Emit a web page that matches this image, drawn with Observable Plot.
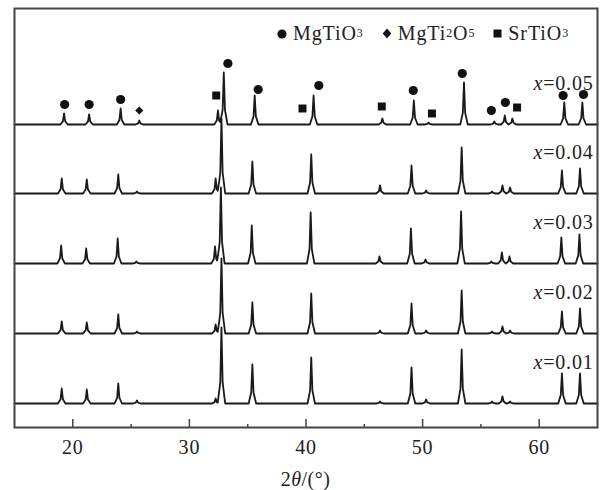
<!DOCTYPE html>
<html>
<head>
<meta charset="utf-8">
<script src="https://cdn.jsdelivr.net/npm/d3@7"></script>
<script src="https://cdn.jsdelivr.net/npm/@observablehq/plot@0.6"></script>
<style>
  html, body { margin: 0; padding: 0; background: #fff; }
  #wrap { position: relative; width: 600px; height: 490px; font-family: "Liberation Serif", serif; color: #222; }
  #legend { position: absolute; top: 22px; left: 277px; font-size: 20px; letter-spacing: 0.9px; white-space: nowrap; display: flex; align-items: center; }
  #legend .item { display: inline-flex; align-items: center; margin-right: 18px; }
  #legend svg { margin-right: 6px; }
  #legend sub { font-size: 12px; vertical-align: -6px; }
  #xlabel { position: absolute; top: 468px; left: 0; width: 611px; text-align: center; font-size: 20px; letter-spacing: 0.5px; }
  svg text { letter-spacing: 0.8px; }
</style>
</head>
<body>
<div id="wrap">
  <div id="chart"></div>
  <div id="legend">
    <span class="item"><svg width="10" height="10"><circle cx="5" cy="5" r="4.6" fill="#111"/></svg>MgTiO<sub>3</sub></span>
    <span class="item"><svg width="10" height="11"><path d="M5,0.5L9.3,5.5L5,10.5L0.7,5.5Z" fill="#111"/></svg>MgTi<sub>2</sub>O<sub>5</sub></span>
    <span class="item"><svg width="9" height="9"><rect x="0.5" y="0.5" width="8" height="8" fill="#111"/></svg>SrTiO<sub>3</sub></span>
  </div>
  <div id="xlabel">2<i>θ</i>/(°)</div>
</div>
<script>
// ---- data ----
const samples = ["0.05", "0.04", "0.03", "0.02", "0.01"];
// vertical offsets of each pattern (a.u.)
const offsets = [303, 234, 164, 94, 24];
// small 2θ shift of each pattern (°)
const shifts = [0.2, 0.0, -0.05, 0.0, 0.0];
// peak positions (2θ, °)
const peakPos = [19.05, 21.2, 23.9, 25.5, 32.25, 32.75, 35.4, 40.45, 46.35, 49.05, 50.3, 53.35, 55.95, 56.85, 57.5, 61.95, 63.5];
// peak intensities for each sample (a.u.)
const h005 = [11, 10, 16, 4, 14, 52, 29, 29, 6, 24, 2, 42, 3, 9, 6, 22, 22];
const h004 = [15, 14, 19, 2, 15, 75, 32, 39, 8, 28, 3, 46, 2, 8, 6, 23, 25];
const h003 = [18, 15, 25, 2, 17, 76, 38, 51, 7, 35, 4, 52, 2, 11, 7, 26, 29];
const h002 = [12, 11, 19, 2, 9, 75, 31, 40, 3, 30, 3, 43, 2, 7, 3, 22, 25];
const h001 = [15, 14, 20, 3, 5, 76, 39, 46, 2, 36, 4, 54, 2, 7, 2, 30, 30];
const heights = [h005, h004, h003, h002, h001];
// relative peak profile: [Δ2θ, fraction of peak height]
const peakProfile = [[-0.32, 0], [-0.1, 0.28], [0, 1], [0.1, 0.28], [0.32, 0]];
// phase markers above the x=0.05 pattern
const markerPhase = ["MgTiO3","MgTiO3","MgTiO3","MgTi2O5","SrTiO3","MgTiO3","MgTiO3","SrTiO3","MgTiO3","SrTiO3","MgTiO3","SrTiO3","MgTiO3","MgTiO3","MgTiO3","SrTiO3","MgTiO3","MgTiO3"];
const markerPos   = [19.3, 21.4, 24.1, 25.7, 32.3, 33.3, 35.9, 39.7, 41.1, 46.5, 49.2, 50.8, 53.4, 55.9, 57.1, 58.1, 62.05, 63.8];
const markerInt   = [323, 323, 328, 317, 332, 364, 338, 319, 342, 321, 337, 314, 354, 317, 325, 320, 332, 333];
const xTicks = [20, 30, 40, 50, 60];
const xMinor = [25, 35, 45, 55];

// ---- build tables ----
function profileAt(d) {
  for (let k = 0; k < peakProfile.length - 1; k++) {
    const [x0, y0] = peakProfile[k], [x1, y1] = peakProfile[k + 1];
    if (d >= x0 && d <= x1) return y0 + (y1 - y0) * (d - x0) / (x1 - x0);
  }
  return 0;
}
const traceRows = [];
samples.forEach((s, i) => {
  const pos = peakPos.map(p => p + shifts[i]);
  const xsSet = new Set([15, 65]);
  pos.forEach(p => peakProfile.forEach(([dx]) => xsSet.add(+(p + dx).toFixed(4))));
  const xs = [...xsSet].sort((a, b) => a - b);
  xs.forEach(t => {
    let v = 0;
    pos.forEach((p, j) => { v += heights[i][j] * profileAt(t - p); });
    traceRows.push({sample: s, t, i: offsets[i] + v});
  });
});
const markerRows = markerPos.map((p, k) => ({t: p, i: markerInt[k], phase: markerPhase[k]}));
const labelRows = samples.map((s, i) => ({label: "x=" + s, i: offsets[i] + 41, t: 65}));

const chart = Plot.plot({
  width: 600,
  height: 490,
  marginLeft: 14,
  marginRight: 3,
  marginTop: 8,
  marginBottom: 63,
  style: {fontFamily: "Liberation Serif", fontSize: "20px", color: "#222", background: "#fff"},
  x: {domain: [15, 65]},
  y: {domain: [0, 419], axis: null},
  symbol: {domain: ["MgTiO3", "MgTi2O5", "SrTiO3"], range: ["circle", "diamond2", "square"]},
  r: {type: "identity"},
  marks: [
    Plot.line(traceRows, {x: "t", y: "i", z: "sample", stroke: "#1a1a1a", strokeWidth: 1.8}),
    Plot.dot(markerRows, {x: "t", y: "i", symbol: "phase", fill: "#111", stroke: null,
      r: d => d.phase === "MgTiO3" ? 4.6 : d.phase === "SrTiO3" ? 4.5 : 3.7}),
    Plot.text(labelRows, {x: "t", y: "i", text: "label", textAnchor: "end", dx: -4, fontSize: 20, fill: "#222"}),
    Plot.axisX({ticks: xTicks, tickSize: -8, text: null, label: null, stroke: "#444", strokeWidth: 1.5}),
    Plot.axisX({ticks: xMinor, tickSize: -3, text: null, label: null, stroke: "#444", strokeWidth: 1.5}),
    Plot.axisX({ticks: xTicks, tickSize: 0, tickPadding: 12, label: null, fontSize: 20, fill: "#222"}),
    Plot.frame({stroke: "#444", strokeWidth: 2})
  ]
});
document.getElementById("chart").appendChild(chart);
// italic x in the sample labels
d3.select(chart).selectAll("text").filter(function() { return this.textContent.startsWith("x="); })
  .each(function() {
    const rest = this.textContent.slice(1);
    const sel = d3.select(this);
    sel.text(null);
    sel.append("tspan").attr("font-style", "italic").text("x");
    sel.append("tspan").text(rest);
  });
</script>
</body>
</html>
